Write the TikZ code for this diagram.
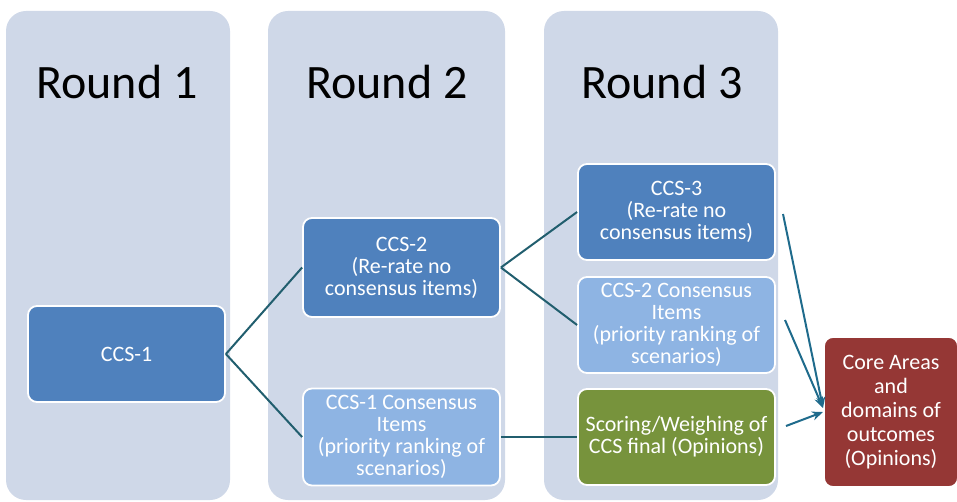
\documentclass[tikz,border=0pt]{standalone}
\usepackage{fontspec}
\setmainfont{Carlito}
\usetikzlibrary{arrows.meta}
\definecolor{colbg}{HTML}{CFD8E8}
\definecolor{dkblue}{HTML}{4F81BD}
\definecolor{ltblue}{HTML}{8EB4E3}
\definecolor{grn}{HTML}{77933C}
\definecolor{rd}{HTML}{953735}
\definecolor{lnc}{HTML}{215E6E}
\definecolor{arc}{HTML}{1F6B8C}
\tikzset{
  colbox/.style={fill=colbg, draw=none, rounded corners=20pt},
  title/.style={anchor=base, font=\fontsize{48}{50}\selectfont, text=black, inner sep=0pt},
  stepbox/.style={draw=white, line width=1.8pt, rounded corners=9pt, text=white,
    minimum width=197pt, align=center, inner sep=2pt,
    font=\fontsize{22}{22}\selectfont},
  dk/.style={stepbox, fill=dkblue},
  lt/.style={stepbox, fill=ltblue},
  gr/.style={stepbox, fill=grn},
  link/.style={draw=lnc, line width=2pt},
  arr/.style={draw=arc, line width=2pt, -{Stealth[length=11pt,width=9pt]}}
}
\begin{document}
\begin{tikzpicture}[x=1pt,y=-1pt]
\useasboundingbox (0,0) rectangle (957,502);
\begin{scope}
\clip (0,0) rectangle (957,502);
\path[colbox] (6,11) rectangle (230,500);
\path[colbox] (268,11) rectangle (505,500);
\path[colbox] (544,11) rectangle (778,500);

\node[title] (r1) at (117,99) {Round 1};
\node[title] (r2) at (387,99) {Round 2};
\node[title] (r3) at (662,99) {Round 3};

\node[dk, minimum height=96pt] (c1) at (126.5,354) {CCS-1};
\node[dk, minimum height=99pt] (c2) at (401.5,267.5) {CCS-2\\(Re-rate no\\consensus items)};
\node[lt, minimum height=97pt] (c1c) at (401.5,437) {CCS-1 Consensus\\Items\\(priority ranking of\\scenarios)};
\node[dk, minimum height=96pt] (c3) at (676.5,212) {CCS-3\\(Re-rate no\\consensus items)};
\node[lt, minimum height=96pt] (c2c) at (676.5,325) {CCS-2 Consensus\\Items\\(priority ranking of\\scenarios)};
\node[gr, minimum height=96pt] (sc) at (676.5,437) {Scoring/Weighing of\\CCS final (Opinions)};
\node[stepbox, fill=rd, minimum width=134pt, minimum height=150pt,
      font=\fontsize{22}{24}\selectfont] (core) at (891,412) {Core Areas\\and\\domains of\\outcomes\\(Opinions)};

\draw[link] (c1.east) -- (c2.west);
\draw[link] (c1.east) -- (c1c.west);
\draw[link] (c2.east) -- (c3.west);
\draw[link] (c2.east) -- (c2c.west);
\draw[link] (c1c.east) -- (sc.west);

\coordinate (s1) at (783,214);
\coordinate (s2) at (785,320);
\coordinate (s3) at (786,426);
\coordinate (t1) at (823,408);
\coordinate (t2) at (823,412);
\draw[arr] (s1) -- (t1);
\draw[arr] (s2) -- (t1);
\draw[arr] (s3) -- (t2);
\end{scope}
\end{tikzpicture}
\end{document}
